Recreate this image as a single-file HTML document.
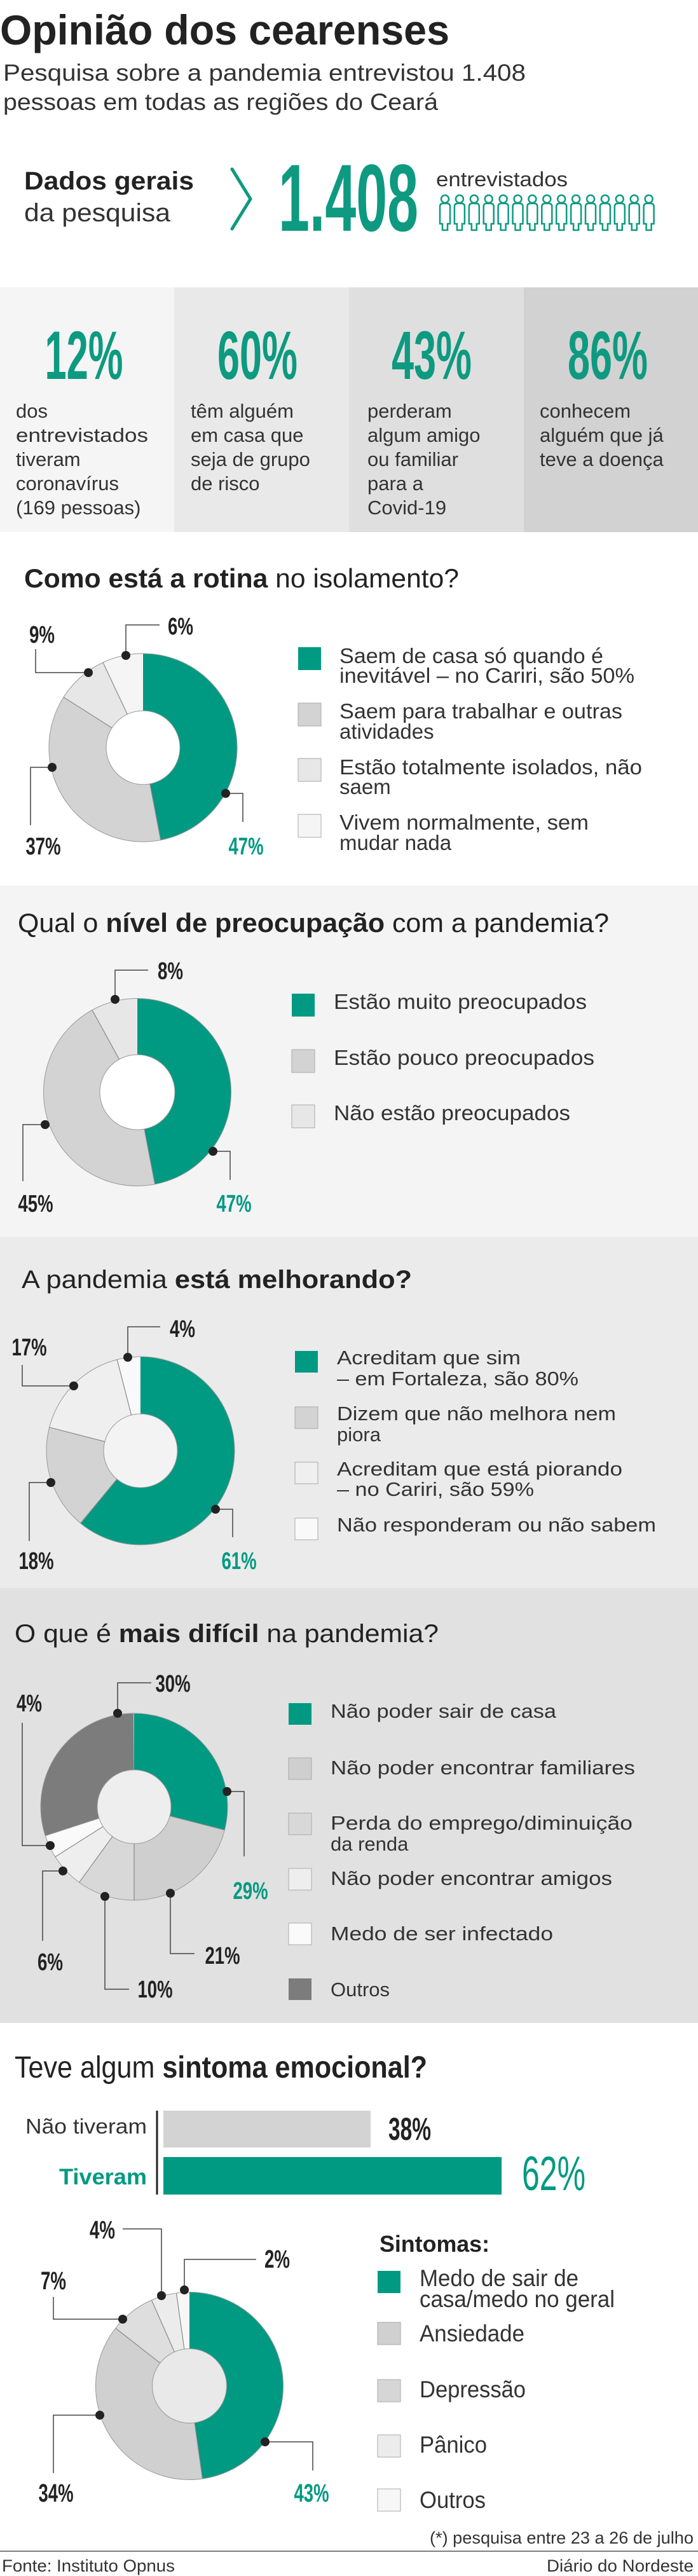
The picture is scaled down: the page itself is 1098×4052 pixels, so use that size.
<!DOCTYPE html>
<html><head><meta charset="utf-8"><style>
html,body{margin:0;padding:0;background:#fff}
svg{display:block}
text{font-family:"Liberation Sans",sans-serif}
</style></head><body>
<svg width="1098" height="4052" viewBox="0 0 1098 4052" xmlns="http://www.w3.org/2000/svg">
<rect x="0" y="0" width="1098" height="4052" fill="#fff"/>
<rect x="0" y="452" width="274" height="385" fill="#f5f5f5"/>
<rect x="274" y="452" width="275" height="385" fill="#e9e9e9"/>
<rect x="549" y="452" width="275" height="385" fill="#dfdfdf"/>
<rect x="824" y="452" width="274" height="385" fill="#d2d2d2"/>
<rect x="0" y="1393" width="1098" height="553" fill="#f4f4f4"/>
<rect x="0" y="1946" width="1098" height="552" fill="#ebebeb"/>
<rect x="0" y="2498" width="1098" height="684" fill="#e1e1e1"/>

<text x="0" y="70" font-size="66" font-weight="bold" fill="#222" textLength="707" lengthAdjust="spacingAndGlyphs">Opinião dos cearenses</text>
<text x="5" y="127" font-size="37" fill="#333" textLength="822" lengthAdjust="spacingAndGlyphs">Pesquisa sobre a pandemia entrevistou 1.408</text>
<text x="5" y="173" font-size="37" fill="#333" textLength="684" lengthAdjust="spacingAndGlyphs">pessoas em todas as regiões do Ceará</text>

<text x="38" y="298" font-size="40" font-weight="bold" fill="#222" textLength="267" lengthAdjust="spacingAndGlyphs">Dados gerais</text>
<text x="38" y="348" font-size="40" fill="#333" textLength="230" lengthAdjust="spacingAndGlyphs">da pesquisa</text>
<polyline points="365,266 394,313 365,360" fill="none" stroke="#0d9a80" stroke-width="5" stroke-linecap="round"/>
<text x="438" y="363" font-size="150" font-weight="bold" fill="#0d9a80" textLength="220" lengthAdjust="spacingAndGlyphs">1.408</text>
<text x="686" y="293" font-size="32" fill="#333" textLength="207" lengthAdjust="spacingAndGlyphs">entrevistados</text>
<g fill="none" stroke="#0d9a80" stroke-width="2.5">
<g id="pp"><circle cx="700" cy="313" r="6"/><path d="M692,352 V325 Q692,320 697,320 H703 Q708,320 708,325 V352 H704 V362 H696 V352 Z"/></g>
<use href="#pp" x="22.9"/><use href="#pp" x="45.8"/><use href="#pp" x="68.7"/><use href="#pp" x="91.6"/><use href="#pp" x="114.5"/><use href="#pp" x="137.4"/><use href="#pp" x="160.3"/><use href="#pp" x="183.2"/><use href="#pp" x="206.1"/><use href="#pp" x="229"/><use href="#pp" x="251.9"/><use href="#pp" x="274.8"/><use href="#pp" x="297.7"/><use href="#pp" x="320.6"/>
</g>

<g font-weight="bold" fill="#0d9a80" font-size="108" text-anchor="middle">
<text x="132" y="596" textLength="123" lengthAdjust="spacingAndGlyphs">12%</text>
<text x="405" y="596" textLength="126" lengthAdjust="spacingAndGlyphs">60%</text>
<text x="679" y="596" textLength="126" lengthAdjust="spacingAndGlyphs">43%</text>
<text x="956" y="596" textLength="126" lengthAdjust="spacingAndGlyphs">86%</text>
</g>
<g font-size="31" fill="#333">
<text x="25" y="657">dos</text><text x="25" y="695" textLength="208" lengthAdjust="spacingAndGlyphs">entrevistados</text><text x="25" y="733">tiveram</text><text x="25" y="771">coronavírus</text><text x="25" y="809">(169 pessoas)</text>
<text x="300" y="657">têm alguém</text><text x="300" y="695">em casa que</text><text x="300" y="733">seja de grupo</text><text x="300" y="771">de risco</text>
<text x="578" y="657">perderam</text><text x="578" y="695">algum amigo</text><text x="578" y="733">ou familiar</text><text x="578" y="771">para a</text><text x="578" y="809">Covid-19</text>
<text x="849" y="657">conhecem</text><text x="849" y="695">alguém que já</text><text x="849" y="733">teve a doença</text>
</g>

<!-- CHART 1 -->
<text x="38" y="924" font-size="42" fill="#222" textLength="684" lengthAdjust="spacingAndGlyphs"><tspan font-weight="bold">Como está a rotina</tspan> no isolamento?</text>
<g transform="rotate(-90 225 1176)" fill="none" stroke-width="90">
<circle cx="225" cy="1176" r="103" pathLength="100" stroke="#009982" stroke-dasharray="47 100"/>
<circle cx="225" cy="1176" r="103" pathLength="100" stroke="#d3d3d3" stroke-dasharray="37 100" stroke-dashoffset="-47"/>
<circle cx="225" cy="1176" r="103" pathLength="100" stroke="#e7e7e7" stroke-dasharray="9 100" stroke-dashoffset="-84"/>
<circle cx="225" cy="1176" r="103" pathLength="100" stroke="#f5f5f5" stroke-dasharray="7 100" stroke-dashoffset="-93"/>
</g>
<circle cx="225" cy="1176" r="148" fill="none" stroke="#999" stroke-width="1"/>
<circle cx="225" cy="1176" r="58" fill="#fff" stroke="#999" stroke-width="1"/>
<g stroke="#888" stroke-width="1.2">
<line x1="225" y1="1118" x2="225" y2="1028" transform="rotate(169.2 225 1176)"/>
<line x1="225" y1="1118" x2="225" y2="1028" transform="rotate(302.4 225 1176)"/>
<line x1="225" y1="1118" x2="225" y2="1028" transform="rotate(334.8 225 1176)"/>
</g>
<g fill="none" stroke="#444" stroke-width="1.5">
<polyline points="198,1031 198,983 251,983"/><polyline points="139,1058 56,1058 56,1021"/>
<polyline points="82,1207 48,1207 48,1298"/><polyline points="355,1248 382,1248 382,1293"/>
</g>
<g fill="#222"><circle cx="198" cy="1031" r="7"/><circle cx="139" cy="1058" r="7"/><circle cx="82" cy="1207" r="7"/><circle cx="355" cy="1248" r="7"/></g>
<g font-size="38" font-weight="bold" text-anchor="middle" fill="#222">
<text x="66" y="1011" textLength="40" lengthAdjust="spacingAndGlyphs">9%</text>
<text x="284" y="998" textLength="40" lengthAdjust="spacingAndGlyphs">6%</text>
<text x="68" y="1344" textLength="55" lengthAdjust="spacingAndGlyphs">37%</text>
<text x="387" y="1344" textLength="55" lengthAdjust="spacingAndGlyphs" fill="#009982">47%</text>
</g>
<rect x="469" y="1018" width="36" height="36" fill="#009982"/>
<rect x="469" y="1106" width="36" height="36" fill="#d3d3d3" stroke="#aaa"/>
<rect x="469" y="1193" width="36" height="36" fill="#e7e7e7" stroke="#aaa"/>
<rect x="469" y="1281" width="36" height="36" fill="#f5f5f5" stroke="#aaa"/>
<g font-size="33" fill="#333">
<text x="534" y="1043" textLength="415" lengthAdjust="spacingAndGlyphs">Saem de casa só quando é</text>
<text x="534" y="1074" textLength="464" lengthAdjust="spacingAndGlyphs">inevitável – no Cariri, são 50%</text>
<text x="534" y="1130" textLength="445" lengthAdjust="spacingAndGlyphs">Saem para trabalhar e outras</text>
<text x="534" y="1162">atividades</text>
<text x="534" y="1218" textLength="476" lengthAdjust="spacingAndGlyphs">Estão totalmente isolados, não</text>
<text x="534" y="1249">saem</text>
<text x="534" y="1305" textLength="392" lengthAdjust="spacingAndGlyphs">Vivem normalmente, sem</text>
<text x="534" y="1337">mudar nada</text>
</g>

<!-- CHART 2 -->
<text x="28" y="1466" font-size="42" fill="#222" textLength="930" lengthAdjust="spacingAndGlyphs">Qual o <tspan font-weight="bold">nível de preocupação</tspan> com a pandemia?</text>
<g transform="rotate(-90 216 1718)" fill="none" stroke-width="89">
<circle cx="216" cy="1718" r="103" pathLength="100" stroke="#009982" stroke-dasharray="47 100"/>
<circle cx="216" cy="1718" r="103" pathLength="100" stroke="#d3d3d3" stroke-dasharray="45 100" stroke-dashoffset="-47"/>
<circle cx="216" cy="1718" r="103" pathLength="100" stroke="#e7e7e7" stroke-dasharray="8 100" stroke-dashoffset="-92"/>
</g>
<circle cx="216" cy="1718" r="147.5" fill="none" stroke="#999" stroke-width="1"/>
<circle cx="216" cy="1718" r="59" fill="#fff" stroke="#999" stroke-width="1"/>
<g stroke="#888" stroke-width="1.2">
<line x1="216" y1="1659" x2="216" y2="1571" transform="rotate(169.2 216 1718)"/>
<line x1="216" y1="1659" x2="216" y2="1571" transform="rotate(331.2 216 1718)"/>
</g>
<g fill="none" stroke="#444" stroke-width="1.5">
<polyline points="181,1572 181,1526 233,1526"/><polyline points="71,1769 36,1769 36,1858"/><polyline points="335,1811 362,1811 362,1856"/>
</g>
<g fill="#222"><circle cx="181" cy="1572" r="7"/><circle cx="71" cy="1769" r="7"/><circle cx="335" cy="1811" r="7"/></g>
<g font-size="38" font-weight="bold" text-anchor="middle" fill="#222">
<text x="268" y="1540" textLength="40" lengthAdjust="spacingAndGlyphs">8%</text>
<text x="56" y="1906" textLength="55" lengthAdjust="spacingAndGlyphs">45%</text>
<text x="368" y="1906" textLength="55" lengthAdjust="spacingAndGlyphs" fill="#009982">47%</text>
</g>
<rect x="459" y="1563" width="36" height="36" fill="#009982"/>
<rect x="459" y="1651" width="36" height="36" fill="#d3d3d3" stroke="#aaa"/>
<rect x="459" y="1738" width="36" height="36" fill="#e7e7e7" stroke="#aaa"/>
<g font-size="33" fill="#333">
<text x="525" y="1587" textLength="398" lengthAdjust="spacingAndGlyphs">Estão muito preocupados</text>
<text x="525" y="1675" textLength="410" lengthAdjust="spacingAndGlyphs">Estão pouco preocupados</text>
<text x="525" y="1762" textLength="372" lengthAdjust="spacingAndGlyphs">Não estão preocupados</text>
</g>

<!-- CHART 3 -->
<text x="34" y="2026" font-size="40" fill="#222" textLength="614" lengthAdjust="spacingAndGlyphs">A pandemia <tspan font-weight="bold">está melhorando?</tspan></text>
<g transform="rotate(-90 221 2282)" fill="none" stroke-width="90">
<circle cx="221" cy="2282" r="103" pathLength="100" stroke="#009982" stroke-dasharray="61 100"/>
<circle cx="221" cy="2282" r="103" pathLength="100" stroke="#d3d3d3" stroke-dasharray="18 100" stroke-dashoffset="-61"/>
<circle cx="221" cy="2282" r="103" pathLength="100" stroke="#efefef" stroke-dasharray="17 100" stroke-dashoffset="-79"/>
<circle cx="221" cy="2282" r="103" pathLength="100" stroke="#f9f9f9" stroke-dasharray="4 100" stroke-dashoffset="-96"/>
</g>
<circle cx="221" cy="2282" r="148" fill="none" stroke="#999" stroke-width="1"/>
<circle cx="221" cy="2282" r="58" fill="#f3f3f3" stroke="#999" stroke-width="1"/>
<g stroke="#888" stroke-width="1.2">
<line x1="221" y1="2224" x2="221" y2="2134" transform="rotate(219.6 221 2282)"/>
<line x1="221" y1="2224" x2="221" y2="2134" transform="rotate(284.4 221 2282)"/>
<line x1="221" y1="2224" x2="221" y2="2134" transform="rotate(345.6 221 2282)"/>
</g>
<g fill="none" stroke="#444" stroke-width="1.5">
<polyline points="201,2135 201,2087 252,2087"/><polyline points="116,2180 35,2180 35,2147"/>
<polyline points="80,2332 46,2332 46,2424"/><polyline points="339,2374 366,2374 366,2418"/>
</g>
<g fill="#222"><circle cx="201" cy="2135" r="7"/><circle cx="116" cy="2180" r="7"/><circle cx="80" cy="2332" r="7"/><circle cx="339" cy="2374" r="7"/></g>
<g font-size="38" font-weight="bold" text-anchor="middle" fill="#222">
<text x="287" y="2103" textLength="40" lengthAdjust="spacingAndGlyphs">4%</text>
<text x="46" y="2132" textLength="55" lengthAdjust="spacingAndGlyphs">17%</text>
<text x="57" y="2468" textLength="55" lengthAdjust="spacingAndGlyphs">18%</text>
<text x="376" y="2468" textLength="55" lengthAdjust="spacingAndGlyphs" fill="#009982">61%</text>
</g>
<rect x="464" y="2125" width="36" height="34" fill="#009982"/>
<rect x="464" y="2213" width="36" height="34" fill="#d3d3d3" stroke="#aaa"/>
<rect x="464" y="2300" width="36" height="34" fill="#efefef" stroke="#aaa"/>
<rect x="464" y="2388" width="36" height="34" fill="#f9f9f9" stroke="#aaa"/>
<g font-size="31" fill="#333">
<text x="530" y="2146" textLength="289" lengthAdjust="spacingAndGlyphs">Acreditam que sim</text>
<text x="530" y="2179" textLength="380" lengthAdjust="spacingAndGlyphs">– em Fortaleza, são 80%</text>
<text x="530" y="2234" textLength="439" lengthAdjust="spacingAndGlyphs">Dizem que não melhora nem</text>
<text x="530" y="2267">piora</text>
<text x="530" y="2321" textLength="449" lengthAdjust="spacingAndGlyphs">Acreditam que está piorando</text>
<text x="530" y="2353" textLength="310" lengthAdjust="spacingAndGlyphs">– no Cariri, são 59%</text>
<text x="530" y="2409" textLength="502" lengthAdjust="spacingAndGlyphs">Não responderam ou não sabem</text>
</g>

<!-- CHART 4 -->
<text x="23" y="2583" font-size="40" fill="#222" textLength="667" lengthAdjust="spacingAndGlyphs">O que é <tspan font-weight="bold">mais difícil</tspan> na pandemia?</text>
<g transform="rotate(-90 211 2842)" fill="none" stroke-width="89">
<circle cx="211" cy="2842" r="102.5" pathLength="100" stroke="#009982" stroke-dasharray="29 100"/>
<circle cx="211" cy="2842" r="102.5" pathLength="100" stroke="#cfcfcf" stroke-dasharray="21 100" stroke-dashoffset="-29"/>
<circle cx="211" cy="2842" r="102.5" pathLength="100" stroke="#d8d8d8" stroke-dasharray="10 100" stroke-dashoffset="-50"/>
<circle cx="211" cy="2842" r="102.5" pathLength="100" stroke="#eeeeee" stroke-dasharray="6 100" stroke-dashoffset="-60"/>
<circle cx="211" cy="2842" r="102.5" pathLength="100" stroke="#fafafa" stroke-dasharray="4 100" stroke-dashoffset="-66"/>
<circle cx="211" cy="2842" r="102.5" pathLength="100" stroke="#7c7c7c" stroke-dasharray="30 100" stroke-dashoffset="-70"/>
</g>
<circle cx="211" cy="2842" r="147" fill="none" stroke="#999" stroke-width="1"/>
<circle cx="211" cy="2842" r="58" fill="#eeeeee" stroke="#999" stroke-width="1"/>
<g stroke="#888" stroke-width="1.2">
<line x1="211" y1="2784" x2="211" y2="2695" transform="rotate(104.4 211 2842)"/>
<line x1="211" y1="2784" x2="211" y2="2695" transform="rotate(180 211 2842)"/>
<line x1="211" y1="2784" x2="211" y2="2695" transform="rotate(216 211 2842)"/>
<line x1="211" y1="2784" x2="211" y2="2695" transform="rotate(237.6 211 2842)"/>
<line x1="211" y1="2784" x2="211" y2="2695" transform="rotate(252 211 2842)"/>
</g>
<g fill="none" stroke="#444" stroke-width="1.5">
<polyline points="185,2695 185,2647 238,2647"/><polyline points="79,2903 35,2903 35,2710"/>
<polyline points="357,2818 384,2818 384,2920"/><polyline points="268,2978 268,3073 306,3073"/>
<polyline points="165,2983 165,3129 203,3129"/><polyline points="99,2943 67,2943 67,3053"/>
</g>
<g fill="#222"><circle cx="185" cy="2695" r="7"/><circle cx="79" cy="2903" r="7"/><circle cx="357" cy="2818" r="7"/><circle cx="268" cy="2978" r="7"/><circle cx="165" cy="2983" r="7"/><circle cx="99" cy="2943" r="7"/></g>
<g font-size="38" font-weight="bold" text-anchor="middle" fill="#222">
<text x="272" y="2661" textLength="55" lengthAdjust="spacingAndGlyphs">30%</text>
<text x="46" y="2692" textLength="40" lengthAdjust="spacingAndGlyphs">4%</text>
<text x="394" y="2987" textLength="55" lengthAdjust="spacingAndGlyphs" fill="#009982">29%</text>
<text x="350" y="3089" textLength="55" lengthAdjust="spacingAndGlyphs">21%</text>
<text x="244" y="3142" textLength="55" lengthAdjust="spacingAndGlyphs">10%</text>
<text x="79" y="3099" textLength="40" lengthAdjust="spacingAndGlyphs">6%</text>
</g>
<rect x="454" y="2679" width="36" height="34" fill="#009982"/>
<rect x="454" y="2765" width="36" height="34" fill="#cfcfcf" stroke="#aaa"/>
<rect x="454" y="2852" width="36" height="34" fill="#d8d8d8" stroke="#aaa"/>
<rect x="454" y="2939" width="36" height="34" fill="#eeeeee" stroke="#aaa"/>
<rect x="454" y="3025" width="36" height="34" fill="#fafafa" stroke="#aaa"/>
<rect x="454" y="3112" width="36" height="34" fill="#7c7c7c"/>
<g font-size="31" fill="#333">
<text x="520" y="2702" textLength="355" lengthAdjust="spacingAndGlyphs">Não poder sair de casa</text>
<text x="520" y="2791" textLength="479" lengthAdjust="spacingAndGlyphs">Não poder encontrar familiares</text>
<text x="520" y="2878" textLength="475" lengthAdjust="spacingAndGlyphs">Perda do emprego/diminuição</text>
<text x="520" y="2911">da renda</text>
<text x="520" y="2965" textLength="443" lengthAdjust="spacingAndGlyphs">Não poder encontrar amigos</text>
<text x="520" y="3052" textLength="350" lengthAdjust="spacingAndGlyphs">Medo de ser infectado</text>
<text x="520" y="3140">Outros</text>
</g>

<!-- CHART 5 -->
<text x="23" y="3268" font-size="48" fill="#222" textLength="649" lengthAdjust="spacingAndGlyphs">Teve algum <tspan font-weight="bold">sintoma emocional?</tspan></text>
<line x1="247" y1="3320" x2="247" y2="3452" stroke="#222" stroke-width="3"/>
<rect x="257" y="3320" width="326" height="58" fill="#d3d3d3"/>
<rect x="257" y="3393" width="532" height="59" fill="#009982"/>
<text x="231" y="3356" font-size="33" fill="#333" text-anchor="end" textLength="191" lengthAdjust="spacingAndGlyphs">Não tiveram</text>
<text x="231" y="3436" font-size="35" font-weight="bold" fill="#009982" text-anchor="end" textLength="138" lengthAdjust="spacingAndGlyphs">Tiveram</text>
<text x="611" y="3366" font-size="50" font-weight="bold" fill="#222" textLength="67" lengthAdjust="spacingAndGlyphs">38%</text>
<text x="821" y="3445" font-size="76" fill="#009982" textLength="100" lengthAdjust="spacingAndGlyphs">62%</text>

<g transform="rotate(-90 298 3753)" fill="none" stroke-width="89">
<circle cx="298" cy="3753" r="103" pathLength="100" stroke="#009982" stroke-dasharray="47.8 100"/>
<circle cx="298" cy="3753" r="103" pathLength="100" stroke="#d0d0d0" stroke-dasharray="37.8 100" stroke-dashoffset="-47.8"/>
<circle cx="298" cy="3753" r="103" pathLength="100" stroke="#dedede" stroke-dasharray="7.8 100" stroke-dashoffset="-85.6"/>
<circle cx="298" cy="3753" r="103" pathLength="100" stroke="#ececec" stroke-dasharray="4.4 100" stroke-dashoffset="-93.4"/>
<circle cx="298" cy="3753" r="103" pathLength="100" stroke="#f7f7f7" stroke-dasharray="2.3 100" stroke-dashoffset="-97.8"/>
</g>
<circle cx="298" cy="3753" r="147.5" fill="none" stroke="#999" stroke-width="1"/>
<circle cx="298" cy="3753" r="58.5" fill="#e9e9e9" stroke="#999" stroke-width="1"/>
<g stroke="#888" stroke-width="1.2">
<line x1="298" y1="3694" x2="298" y2="3606" transform="rotate(172 298 3753)"/>
<line x1="298" y1="3694" x2="298" y2="3606" transform="rotate(308 298 3753)"/>
<line x1="298" y1="3694" x2="298" y2="3606" transform="rotate(336.2 298 3753)"/>
<line x1="298" y1="3694" x2="298" y2="3606" transform="rotate(352 298 3753)"/>
</g>
<g fill="none" stroke="#444" stroke-width="1.5">
<polyline points="254,3611 254,3506 193,3506"/><polyline points="290,3602 290,3554 403,3554"/>
<polyline points="193,3648 84,3648 84,3613"/><polyline points="157,3799 84,3799 84,3890"/>
<polyline points="417,3841 492,3841 492,3886"/>
</g>
<g fill="#222"><circle cx="254" cy="3611" r="7"/><circle cx="290" cy="3602" r="7"/><circle cx="193" cy="3648" r="7"/><circle cx="157" cy="3799" r="7"/><circle cx="417" cy="3841" r="7"/></g>
<g font-size="40" font-weight="bold" text-anchor="middle" fill="#222">
<text x="161" y="3521" textLength="40" lengthAdjust="spacingAndGlyphs">4%</text>
<text x="436" y="3567" textLength="40" lengthAdjust="spacingAndGlyphs">2%</text>
<text x="84" y="3601" textLength="40" lengthAdjust="spacingAndGlyphs">7%</text>
<text x="88" y="3935" textLength="55" lengthAdjust="spacingAndGlyphs">34%</text>
<text x="490" y="3935" textLength="55" lengthAdjust="spacingAndGlyphs" fill="#009982">43%</text>
</g>
<text x="597" y="3542" font-size="36" font-weight="bold" fill="#222" textLength="173" lengthAdjust="spacingAndGlyphs">Sintomas:</text>
<rect x="594" y="3572" width="36" height="35" fill="#009982"/>
<rect x="594" y="3653" width="36" height="35" fill="#d0d0d0" stroke="#aaa"/>
<rect x="594" y="3743" width="36" height="35" fill="#d6d6d6" stroke="#aaa"/>
<rect x="594" y="3830" width="36" height="35" fill="#ececec" stroke="#aaa"/>
<rect x="594" y="3915" width="36" height="35" fill="#f7f7f7" stroke="#aaa"/>
<g font-size="37" fill="#333">
<text x="660" y="3596" textLength="250" lengthAdjust="spacingAndGlyphs">Medo de sair de</text>
<text x="660" y="3629" textLength="307" lengthAdjust="spacingAndGlyphs">casa/medo no geral</text>
<text x="660" y="3683" textLength="165" lengthAdjust="spacingAndGlyphs">Ansiedade</text>
<text x="660" y="3771" textLength="167" lengthAdjust="spacingAndGlyphs">Depressão</text>
<text x="660" y="3858" textLength="106" lengthAdjust="spacingAndGlyphs">Pânico</text>
<text x="660" y="3945" textLength="104" lengthAdjust="spacingAndGlyphs">Outros</text>
</g>
<text x="1091" y="4001" font-size="27" fill="#333" text-anchor="end" textLength="415" lengthAdjust="spacingAndGlyphs">(*) pesquisa entre 23 a 26 de julho</text>
<line x1="0" y1="4013" x2="1098" y2="4013" stroke="#555" stroke-width="1.5"/>
<text x="3" y="4045" font-size="27" fill="#333" textLength="272" lengthAdjust="spacingAndGlyphs">Fonte: Instituto Opnus</text>
<text x="1091" y="4045" font-size="27" fill="#333" text-anchor="end" textLength="231" lengthAdjust="spacingAndGlyphs">Diário do Nordeste</text>
</svg>
</body></html>
